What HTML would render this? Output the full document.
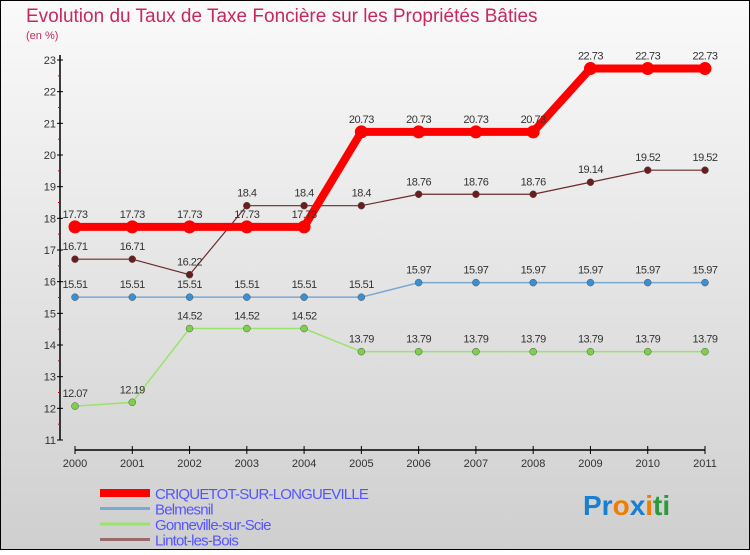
<!DOCTYPE html>
<html><head><meta charset="utf-8"><style>
body{margin:0}
#c{width:750px;height:550px;position:relative;font-family:"Liberation Sans",sans-serif}
</style></head><body>
<div id="c">
<svg id="s" width="750" height="550" xmlns="http://www.w3.org/2000/svg">
<defs><linearGradient id="bg" x1="0" y1="0" x2="0" y2="1"><stop offset="0" stop-color="#fafafa"/><stop offset="1" stop-color="#cfcfcf"/></linearGradient></defs>
<rect x="0.5" y="0.5" width="749" height="549" fill="url(#bg)" stroke="#000"/>
<text x="26" y="22" font-size="19" fill="#c8285a">Evolution du Taux de Taxe Foncière sur les Propriétés Bâties</text>
<text x="26" y="39" font-size="11" fill="#c8285a">(en %)</text>
<g id="axes"></g><g id="series"></g><g id="legend"></g>
<text x="583" y="515" font-size="28" font-weight="bold"><tspan fill="#1a7fd0">Pr</tspan><tspan fill="#f07d00">o</tspan><tspan fill="#1a7fd0">x</tspan><tspan fill="#f07d00">i</tspan><tspan fill="#2a9a3a">ti</tspan></text>
</svg></div>
<script>
const years=["2000","2001","2002","2003","2004","2005","2006","2007","2008","2009","2010","2011"];
const yTicks=[11,12,13,14,15,16,17,18,19,20,21,22,23];
const criquetot=[17.73,17.73,17.73,17.73,17.73,20.73,20.73,20.73,20.73,22.73,22.73,22.73];
const belmesnil=[15.51,15.51,15.51,15.51,15.51,15.51,15.97,15.97,15.97,15.97,15.97,15.97];
const gonneville=[12.07,12.19,14.52,14.52,14.52,13.79,13.79,13.79,13.79,13.79,13.79,13.79];
const lintot=[16.71,16.71,16.22,18.4,18.4,18.4,18.76,18.76,18.76,19.14,19.52,19.52];
const seriesNames=["CRIQUETOT-SUR-LONGUEVILLE","Belmesnil","Gonneville-sur-Scie","Lintot-les-Bois"];
const NS="http://www.w3.org/2000/svg";
const X=i=>75+i*(630/11);
const Y=v=>440-(v-11)*(380/12);
function mk(p,t,a){const e=document.createElementNS(NS,t);for(const k in a)e.setAttribute(k,a[k]);p.appendChild(e);return e;}
const ax=document.getElementById('axes');
let l=mk(ax,'line',{x1:60,y1:55,x2:60,y2:440,stroke:'#000','stroke-width':1.5});


l=mk(ax,'line',{x1:75,y1:450,x2:705,y2:450,stroke:'#000','stroke-width':1.5});


yTicks.forEach((v,i)=>{
  mk(ax,'line',{x1:57,y1:Y(v),x2:63,y2:Y(v),stroke:'#000'});
  if(i<yTicks.length-1)mk(ax,'line',{x1:58,y1:Y(v+0.5),x2:60,y2:Y(v+0.5),stroke:'#d00'});
  const t=mk(ax,'text',{x:56,y:Y(v)+4,'font-size':11,'text-anchor':'end',fill:'#333'});
  t.textContent=v;
  
  
});
years.forEach((y,i)=>{
  mk(ax,'line',{x1:X(i),y1:446,x2:X(i),y2:454,stroke:'#000'});
  const t=mk(ax,'text',{x:X(i),y:467,'font-size':11,'text-anchor':'middle',fill:'#333'});
  t.textContent=y;
  
  
});
const sg=document.getElementById('series');
function draw(data,color,fill,w,r,name){
  const g=mk(sg,'g',{});
  
  
  mk(g,'polyline',{points:data.map((v,i)=>X(i)+','+Y(v)).join(' '),fill:'none',stroke:color,'stroke-width':w});
  data.forEach((v,i)=>{
    const c=mk(g,'circle',{cx:X(i),cy:Y(v),r:r,fill:fill,stroke:w>3?'none':'#555','stroke-width':0.5});
    
    
    const t=mk(g,'text',{x:X(i),y:Y(v)-9,'font-size':11,'text-anchor':'middle',fill:'#333','letter-spacing':'-0.5'});
    t.textContent=String(v);
    
    
  });
}
draw(gonneville,'#9be36a','#7ed04a',1.5,3.5,'series-gonneville');
draw(belmesnil,'#7aaad2','#3b8fd0',1.5,3.5,'series-belmesnil');
draw(lintot,'#6b2a2a','#6b1d1d',1.2,3.5,'series-lintot');
draw(criquetot,'#f00','#f00',8,6.5,'series-criquetot');
const lg=document.getElementById('legend');
const lc=['#f00','#7aaad2','#9be36a','#9b6b6b'],lw=[8,3,3,3];
seriesNames.forEach((n,i)=>{
  const y=493+i*15.5;
  const g=mk(lg,'g',{});
  
  
  mk(g,'line',{x1:100,y1:y,x2:150,y2:y,stroke:lc[i],'stroke-width':lw[i]});
  const t=mk(g,'text',{x:155,y:y+6,'font-size':15,fill:'#5555ff','letter-spacing':'-0.8'});
  t.textContent=n;
});
</script>
</body></html>
